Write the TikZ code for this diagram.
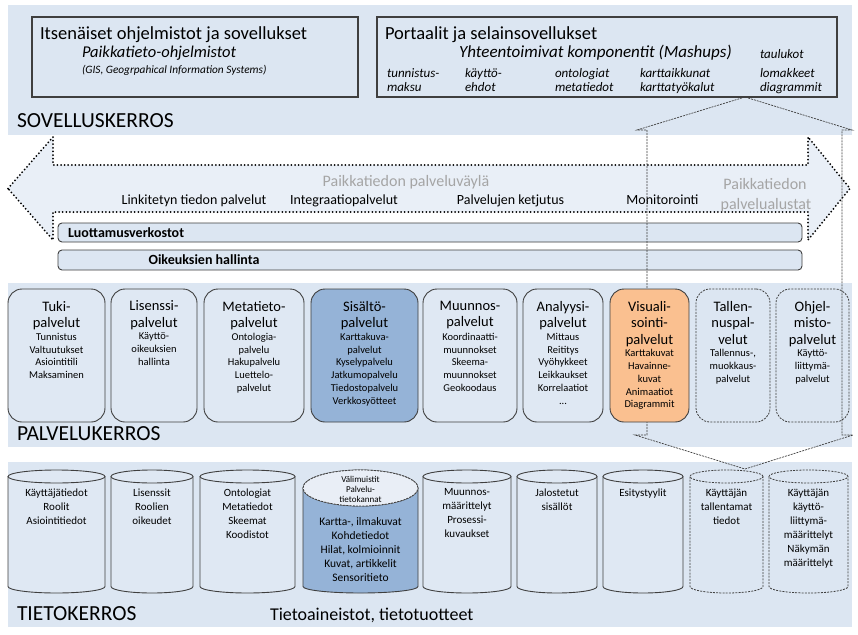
\documentclass[tikz,border=0pt]{standalone}
\usepackage{fontspec}
\setmainfont{Carlito}
\usetikzlibrary{positioning}
\definecolor{band}{HTML}{DCE6F2}
\definecolor{boxfill}{HTML}{DFE8F3}
\definecolor{blueb}{HTML}{95B3D7}
\definecolor{orangeb}{HTML}{FAC090}
\definecolor{arrowfill}{HTML}{E9EFF7}
\definecolor{edge}{HTML}{3F3F3F}
\definecolor{graytxt}{HTML}{A5A5A5}
\definecolor{cyltop}{HTML}{E9EEF6}
\newcommand{\fs}[2]{\fontsize{#1}{#2}\selectfont}
% x1, x2, top ry, body fill, top fill, line style
\newcommand{\mycyl}[6]{%
  \pgfmathsetmacro\cxx{(#1+#2)/2}%
  \pgfmathsetmacro\rxx{(#2-#1)/2}%
  \pgfmathsetmacro\ytt{470+#3}%
  \fill[#4] (#1,\ytt) -- (#1,586.5) arc[start angle=180,end angle=360,x radius=\rxx pt,y radius=6.5pt] -- (#2,\ytt) -- cycle;
  \draw[cylline,#6] (#1,\ytt) -- (#1,586.5) arc[start angle=180,end angle=360,x radius=\rxx pt,y radius=6.5pt] -- (#2,\ytt);
  \filldraw[cylline,#6,fill=#5] (\cxx,\ytt) ellipse[x radius=\rxx pt,y radius=#3 pt];
}
\begin{document}
\begin{tikzpicture}[x=1pt,y=-1pt,
  every node/.style={inner sep=0pt,outer sep=0pt},
  layerband/.style={fill=band,draw=none},
  topbox/.style={draw=edge,line width=1.1pt},
  svc/.style={draw=edge,line width=0.9pt,rounded corners=14pt,fill=boxfill},
  svcdash/.style={draw=edge,line width=0.8pt,dash pattern=on 2pt off 1.2pt,rounded corners=14pt},
  bar/.style={draw=edge,line width=0.9pt,rounded corners=4pt,fill=band},
  dotarrow/.style={draw=black,line width=2pt,dash pattern=on 0pt off 3.6pt,line cap=round,fill=arrowfill},
  conn/.style={draw=edge,line width=0.7pt,dash pattern=on 2pt off 1pt},
  cylline/.style={draw=edge,line width=0.9pt},
  cyldash/.style={dash pattern=on 2pt off 1.2pt,line width=0.8pt},
  tit/.style={font=\fs{14.5}{16.5},align=center,anchor=north},
  itm/.style={font=\fs{10.5}{12.8},align=center,anchor=north},
  cyt/.style={font=\fs{11}{14},align=center,anchor=north},
  layer/.style={font=\fs{21.5}{24},anchor=base west},
  mid/.style={font=\fs{14}{16},anchor=base},
  gr/.style={font=\fs{16}{20},text=graytxt,anchor=base},
  rowit/.style={font=\fs{13}{15}\itshape,anchor=base west}
]
\useasboundingbox (0,0) rectangle (858,634);
\fill[white] (0,0) rectangle (858,634);

% layer bands
\path[layerband] (8,5) rectangle (852,135);
\path[layerband] (8,283) rectangle (852,447);
\path[layerband] (8,462) rectangle (852,627);

% top boxes
\node[topbox,minimum width=326pt,minimum height=80pt] (b1) at (195,57) {};
\node[anchor=base west,font=\fs{18.5}{20}] (b1t) at (40,40) {Itsenäiset ohjelmistot ja sovellukset};
\node[anchor=base west,font=\fs{16.5}{18}\itshape] (b1s) at (82,58) {Paikkatieto-ohjelmistot};
\node[anchor=base west,font=\fs{11.3}{13}\itshape] (b1g) at (82,74) {(GIS, Geogrpahical Information Systems)};

\node[topbox,minimum width=460pt,minimum height=80pt] (b2) at (607,57) {};
\node[anchor=base west,font=\fs{18.5}{20}] (b2t) at (385,40) {Portaalit ja selainsovellukset};
\node[anchor=base west,font=\fs{17}{19}\itshape] (b2s) at (459,58) {Yhteentoimivat komponentit (Mashups)};
\node[rowit] (r0) at (760,58.5) {taulukot};
\node[rowit] (r1a) at (387,77) {tunnistus-};
\node[rowit] (r1b) at (465,77) {käyttö-};
\node[rowit] (r1c) at (555,77) {ontologiat};
\node[rowit] (r1d) at (640,77) {karttaikkunat};
\node[rowit] (r1e) at (760,77) {lomakkeet};
\node[rowit] (r2a) at (387,91) {maksu};
\node[rowit] (r2b) at (465,91) {ehdot};
\node[rowit] (r2c) at (555,91) {metatiedot};
\node[rowit] (r2d) at (640,91) {karttatyökalut};
\node[rowit] (r2e) at (760,91) {diagrammit};

\node[layer] (l1) at (17,127) {SOVELLUSKERROS};

% big dotted double arrow
\filldraw[dotarrow] (8,188.5) -- (53,137) -- (53,165) -- (808,165) -- (808,137) -- (850,188.5) -- (808,240) -- (808,212) -- (53,212) -- (53,240) -- cycle;
\node[gr] (bus) at (406,186) {Paikkatiedon palveluväylä};
\node[mid] (m1) at (194,204) {Linkitetyn tiedon palvelut};
\node[mid] (m2) at (344,204) {Integraatiopalvelut};
\node[mid] (m3) at (510.5,204) {Palvelujen ketjutus};
\node[mid] (m4) at (662.5,204) {Monitorointi};
\node[gr] (pa1) at (765,189) {Paikkatiedon};
\node[gr] (pa2) at (766,209) {palvelualustat};

% bars
\node[bar,minimum width=744pt,minimum height=19pt] (bar1) at (430,232.5) {};
\node[anchor=base west,font=\fs{14}{15}\bfseries] (bar1t) at (68,237) {Luottamusverkostot};
\node[bar,minimum width=744pt,minimum height=20pt] (bar2) at (430,260) {};
\node[anchor=base,font=\fs{14}{15}\bfseries] (bar2t) at (204,264.5) {Oikeuksien hallinta};

% connector shape between portal box and user data store
\draw[conn] (745,97) -- (637,130) -- (647,130) -- (647,435) -- (635,435) -- (745,469) -- (853,435) -- (842,435) -- (842,130) -- (852,130) -- cycle;

% service boxes
\node[svc,minimum width=97pt,minimum height=133pt] (s1) at (56.5,355.5) {};
\node[svc,minimum width=86pt,minimum height=133pt] (s2) at (154,355.5) {};
\node[svc,minimum width=100pt,minimum height=133pt] (s3) at (254,355.5) {};
\node[svc,fill=blueb,minimum width=107pt,minimum height=133pt] (s4) at (364.5,355.5) {};
\node[svc,minimum width=94pt,minimum height=133pt] (s5) at (470,355.5) {};
\node[svc,minimum width=80pt,minimum height=133pt] (s6) at (563,355.5) {};
\node[svc,fill=orangeb,minimum width=79pt,minimum height=133pt] (s7) at (649.5,355.5) {};
\node[svcdash,minimum width=74pt,minimum height=133pt] (s8) at (733,355.5) {};
\node[svcdash,minimum width=73pt,minimum height=133pt] (s9) at (812.5,355.5) {};

\node[tit] (t1) at (56.5,301) {Tuki-\\palvelut};
\node[itm] (i1) at (56.5,333) {Tunnistus\\Valtuutukset\\Asiointitili\\Maksaminen};
\node[tit] (t2) at (154,301) {Lisenssi-\\palvelut};
\node[itm] (i2) at (154,333) {Käyttö-\\oikeuksien\\hallinta};
\node[tit] (t3) at (254,301) {Metatieto-\\palvelut};
\node[itm] (i3) at (254,333) {Ontologia-\\palvelu\\Hakupalvelu\\Luettelo-\\palvelut};
\node[tit] (t4) at (364.5,301) {Sisältö-\\palvelut};
\node[itm] (i4) at (364.5,333) {Karttakuva-\\palvelut\\Kyselypalvelu\\Jatkumopalvelu\\Tiedostopalvelu\\Verkkosyötteet};
\node[tit] (t5) at (470,301) {Muunnos-\\palvelut};
\node[itm] (i5) at (470,333) {Koordinaatti-\\muunnokset\\Skeema-\\muunnokset\\Geokoodaus};
\node[tit] (t6) at (563,301) {Analyysi-\\palvelut};
\node[itm] (i6) at (563,333) {Mittaus\\Reititys\\Vyöhykkeet\\Leikkaukset\\Korrelaatiot\\...};
\node[tit] (t7) at (649.5,301) {Visuali-\\sointi-\\palvelut};
\node[itm] (i7) at (649.5,349.5) {Karttakuvat\\Havainne-\\kuvat\\Animaatiot\\Diagrammit};
\node[tit] (t8) at (733,301) {Tallen-\\nuspal-\\velut};
\node[itm] (i8) at (733,349.5) {Tallennus-,\\muokkaus-\\palvelut};
\node[tit] (t9) at (812.5,301) {Ohjel-\\misto-\\palvelut};
\node[itm] (i9) at (812.5,349.5) {Käyttö-\\liittymä-\\palvelut};

\node[layer] (l2) at (17,440) {PALVELUKERROS};

% data stores
\mycyl{8}{105}{6.5}{boxfill}{boxfill}{}
\mycyl{111}{193}{6.5}{boxfill}{boxfill}{}
\mycyl{200}{295}{6.5}{boxfill}{boxfill}{}
\mycyl{303}{418}{18}{blueb}{cyltop}{}
\draw[cyldash,draw=edge,fill=cyltop] (360.5,488) ellipse[x radius=57.5pt,y radius=18pt];
\mycyl{423}{511}{6.5}{boxfill}{boxfill}{}
\mycyl{517}{597}{6.5}{boxfill}{boxfill}{}
\mycyl{603}{683}{6.5}{boxfill}{boxfill}{}
\mycyl{690}{763}{6.5}{band}{band}{cyldash}
\mycyl{769}{848}{6.5}{band}{band}{cyldash}

\node[cyt] (c1) at (56.5,488.5) {Käyttäjätiedot\\Roolit\\Asiointitiedot};
\node[cyt] (c2) at (152,488.5) {Lisenssit\\Roolien\\oikeudet};
\node[cyt] (c3) at (247.5,488.5) {Ontologiat\\Metatiedot\\Skeemat\\Koodistot};
\node[font=\fs{9}{10},align=center,anchor=north] (c4a) at (360.5,476) {Välimuistit\\Palvelu-\\tietokannat};
\node[font=\fs{11.5}{14},align=center,anchor=north] (c4b) at (360.5,518) {Kartta-, ilmakuvat\\Kohdetiedot\\Hilat, kolmioinnit\\Kuvat, artikkelit\\Sensoritieto};
\node[cyt] (c5) at (467,488.5) {Muunnos-\\määrittelyt\\Prosessi-\\kuvaukset};
\node[cyt] (c6) at (557,488.5) {Jalostetut\\sisällöt};
\node[cyt] (c7) at (643,488.5) {Esitystyylit};
\node[cyt] (c8) at (726.5,488.5) {Käyttäjän\\tallentamat\\tiedot};
\node[cyt] (c9) at (808.5,488.5) {Käyttäjän\\käyttö-\\liittymä-\\määrittelyt\\Näkymän\\määrittelyt};

\node[layer] (l3) at (17,620) {TIETOKERROS};
\node[anchor=base west,font=\fs{18}{20}] (l3b) at (270,620) {Tietoaineistot, tietotuotteet};
\end{tikzpicture}
\end{document}
